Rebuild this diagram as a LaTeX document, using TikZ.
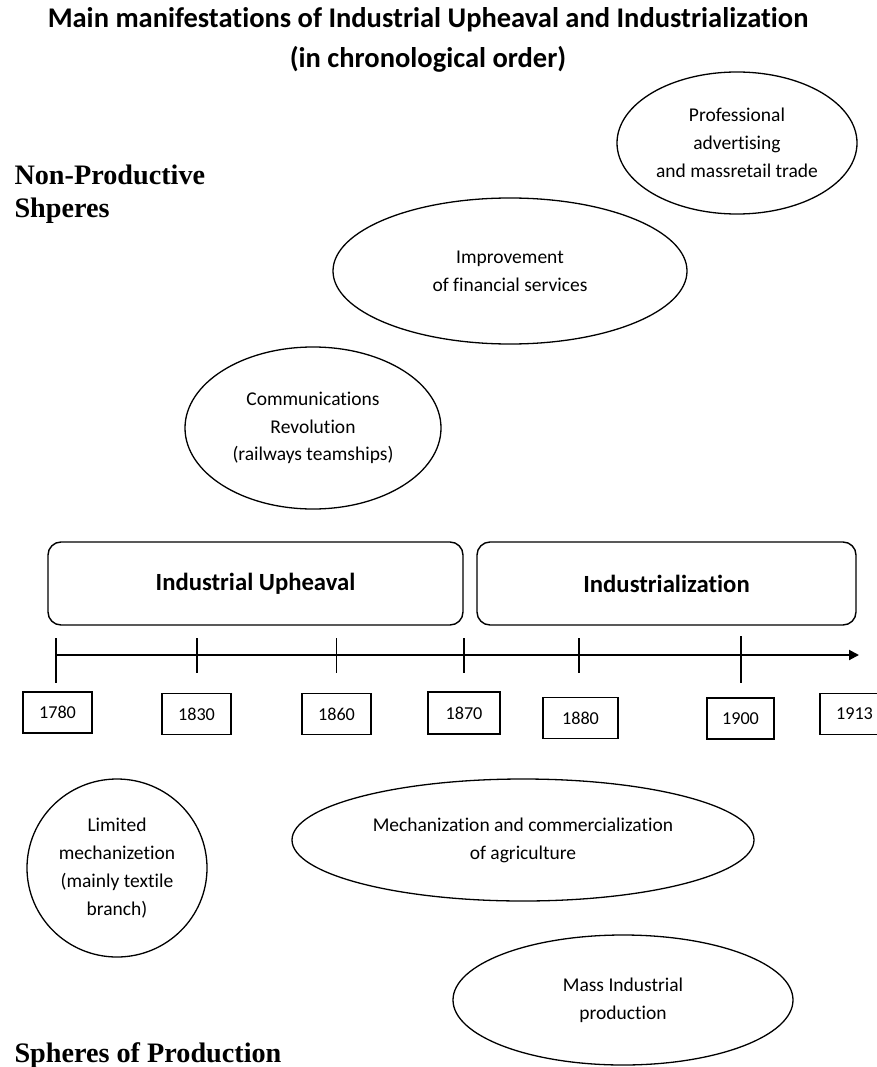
\documentclass[tikz,border=0pt]{standalone}
\usepackage{fontspec}
\setmainfont{Carlito}[Ligatures=NoCommon]
\newfontfamily\tnr{Liberation Serif}
\usetikzlibrary{shapes.geometric,arrows.meta}
\tikzset{
  oval/.style={ellipse,draw,line width=1.3pt,inner sep=0pt,align=center,
    font=\fontsize{19.5}{27.8}\selectfont},
  band/.style={draw,rounded corners=13pt,line width=1.4pt,inner sep=0pt,
    font=\bfseries\fontsize{24.7}{30}\selectfont},
  yearbox/.style={draw,line width=1.2pt,minimum width=69pt,minimum height=41pt,
    inner sep=0pt,font=\fontsize{18.2}{20}\selectfont},
  sphere/.style={anchor=base west,font=\tnr\bfseries\fontsize{28.2}{34}\selectfont},
  titletext/.style={anchor=base,font=\bfseries\fontsize{28.5}{34}\selectfont},
  tick/.style={line width=1.3pt}
}
\begin{document}
\begin{tikzpicture}[x=1pt,y=-1pt]
\useasboundingbox (0,0) rectangle (876,1067);
% titles
\node[titletext] (t1) at (428,28) {Main manifestations of Industrial Upheaval and Industrialization};
\node[titletext] (t2) at (428,68) {(in chronological order)};
% sphere labels
\node[sphere] (np1) at (11,185) {Non-Productive};
\node[sphere] (np2) at (11,218) {Shperes};
\node[sphere] (sp) at (11,1062) {Spheres of Production};
% upper ovals
\node[oval,minimum width=240pt,minimum height=142pt] (adv) at (737,143)
  {Professional\\advertising\\and massretail trade};
\node[oval,minimum width=354pt,minimum height=146pt] (fin) at (510,271)
  {Improvement\\of financial services};
\node[oval,minimum width=256pt,minimum height=162pt] (com) at (313,428)
  {Communications\\Revolution\\(railways teamships)};
% bands
\node[band,minimum width=415pt,minimum height=83pt] (up) at (255.5,583.5) {Industrial Upheaval};
\node[band,minimum width=379pt,minimum height=83pt] (ind) at (666.5,583.5) {Industrialization};
% axis
\coordinate (a0) at (56,655);
\coordinate (a1) at (859,655);
\draw[line width=2pt,-{Triangle[length=10pt,width=10pt]}] (a0) -- (a1);
\draw[tick] (56,638) -- (56,683);
\draw[tick] (197,638) -- (197,673);
\draw[tick] (336.5,638) -- (336.5,673);
\draw[tick] (464,638) -- (464,673);
\draw[tick] (579,638) -- (579,673);
\draw[tick] (741,636) -- (741,683);
% years
\node[yearbox] (y1780) at (57.5,712.5) {1780};
\node[yearbox] (y1830) at (196.5,714) {1830};
\node[yearbox] (y1860) at (336.5,714) {1860};
\node[yearbox,minimum width=72pt,minimum height=42pt] (y1870) at (464,713) {1870};
\node[yearbox,minimum width=75pt] (y1880) at (580.5,718) {1880};
\node[yearbox,minimum width=67pt] (y1900) at (740.5,718.5) {1900};
\node[yearbox] (y1913) at (854.5,714) {1913};
% lower ovals
\node[oval,minimum width=180pt,minimum height=178pt] (lim) at (117,868)
  {Limited\\mechanizetion\\(mainly textile\\branch)};
\node[oval,minimum width=462pt,minimum height=122pt] (agr) at (523,840)
  {Mechanization and commercialization\\of agriculture};
\node[oval,minimum width=340pt,minimum height=130pt] (mass) at (623,1000)
  {Mass Industrial\\production};
\end{tikzpicture}
\end{document}
